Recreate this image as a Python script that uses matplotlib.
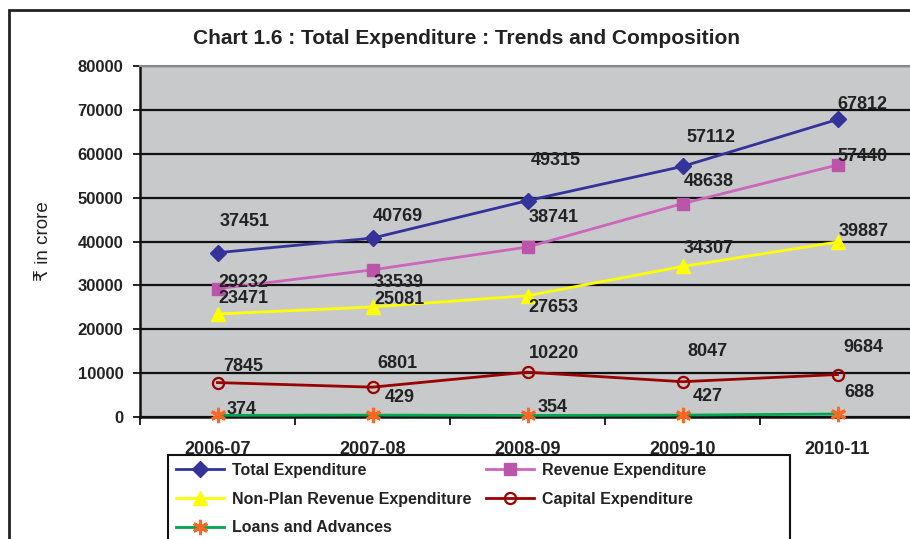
import matplotlib.pyplot as plt
from matplotlib.patches import Rectangle

# data
years = ["2006-07", "2007-08", "2008-09", "2009-10", "2010-11"]
total_exp = [37451, 40769, 49315, 57112, 67812]
revenue_exp = [29232, 33539, 38741, 48638, 57440]
nonplan_rev_exp = [23471, 25081, 27653, 34307, 39887]
capital_exp = [7845, 6801, 10220, 8047, 9684]
loans_adv = [374, 429, 354, 427, 688]

# label offsets in pixels (dx, dy) from each point
lab_off = {
    "Total Expenditure": [(27, 31), (25, 22), (28, 40), (28, 29), (25, 15)],
    "Revenue Expenditure": [(26, 6), (26, -13), (26, 30), (26, 22), (25, 8)],
    "Non-Plan Revenue Expenditure": [(26, 16), (27, 7), (26, -12), (26, 18), (26, 10)],
    "Capital Expenditure": [(26, 16), (25, 24), (26, 19), (25, 30), (26, 27)],
    "Loans and Advances": [(24, 6), (27, 18), (25, 8), (25, 19), (22, 21)],
}

plt.rcParams['font.family'] = ['Liberation Sans', 'DejaVu Sans']

fig = plt.figure(figsize=(9.10, 5.39), dpi=100)
ax = fig.add_axes([140/910, 1-417/539, 775/910, 351/539])
ax.set_facecolor("#c8c9cb")

x = list(range(len(years)))
series = [
    ("Total Expenditure", total_exp, dict(color="#333399", marker="D", ms=8, mfc="#333399", mec="#333399")),
    ("Revenue Expenditure", revenue_exp, dict(color="#cc66bb", marker="s", ms=9, mfc="#bb55aa", mec="#bb55aa")),
    ("Non-Plan Revenue Expenditure", nonplan_rev_exp, dict(color="#ffff00", marker="^", ms=10, mfc="#ffff00", mec="#ffff00")),
    ("Capital Expenditure", capital_exp, dict(color="#990000", marker="o", ms=8, mfc="none", mec="#990000", mew=1.6)),
    ("Loans and Advances", loans_adv, dict(color="#00a651", marker=(6, 2, 0), ms=11, mfc="#ff6622", mec="#ff6622", mew=2.2)),
]

handles = {}
for name, vals, st in series:
    h, = ax.plot(x, vals, lw=2, label=name, zorder=3, clip_on=False, **st)
    handles[name] = h
    for i, v in enumerate(vals):
        dx, dy = lab_off[name][i]
        ax.annotate(str(v), (i, v), xytext=(dx*0.72, dy*0.72), textcoords="offset points",
                    ha="center", va="center", fontsize=13, fontweight="bold", color="#222222", zorder=4)

ax.set_xlim(-0.5, 4.5)
ax.set_ylim(0, 80000)
ax.set_yticks(range(0, 80001, 10000))
ax.tick_params(axis="y", direction="out", length=5, width=1.2, labelsize=12, pad=7, labelcolor="#222222")
for lab in ax.get_yticklabels():
    lab.set_fontweight("bold")
ax.yaxis.grid(True, color="#111111", lw=1.6)
ax.set_axisbelow(True)

ax.set_xticks([i - 0.5 for i in range(len(years) + 1)])
ax.set_xticklabels([])
ax.tick_params(axis="x", which="major", direction="out", length=6, width=1.2)
ax.set_xticks(x, minor=True)
ax.set_xticklabels(years, minor=True, fontsize=13, fontweight="bold", color="#222222")
ax.tick_params(axis="x", which="minor", length=0, pad=17)

for s in ["left", "bottom"]:
    ax.spines[s].set_color("#111111")
    ax.spines[s].set_linewidth(1.8)
ax.spines["top"].set_color("#888888")
ax.spines["top"].set_linewidth(1.5)
ax.spines["right"].set_visible(False)

fig.text(43/910, 1-241/539, "₹ in crore", rotation=90, ha="center", va="center",
         fontsize=13.5, color="#222222")

fig.text(467/910, 1-38/539, "Chart 1.6 : Total Expenditure : Trends and Composition",
         ha="center", va="center", fontsize=15, fontweight="bold", color="#222222")

# outer frame of the chart
fig.patches.append(Rectangle((9/910, -0.05), 1.1, 1-10/539+0.05, transform=fig.transFigure,
                             fill=False, ec="#222222", lw=2))
# legend box
fig.patches.append(Rectangle((168/910, -0.05), 622/910, 1-455/539+0.05, transform=fig.transFigure,
                             fill=False, ec="#111111", lw=1.5, zorder=5))

order = ["Total Expenditure", "Non-Plan Revenue Expenditure", "Loans and Advances",
         "Revenue Expenditure", "Capital Expenditure"]
leg = fig.legend(handles=[handles[n] for n in order], loc="upper left",
                 bbox_to_anchor=(168/910, 1-455/539),
                 ncol=2, frameon=False, prop=dict(size=11.5, weight="bold"),
                 handlelength=3.0, columnspacing=0.9, labelspacing=0.85,
                 borderaxespad=0, borderpad=0.5, handletextpad=0.5)
for t in leg.get_texts():
    t.set_color("#222222")

fig.savefig("out.png", dpi=100)
